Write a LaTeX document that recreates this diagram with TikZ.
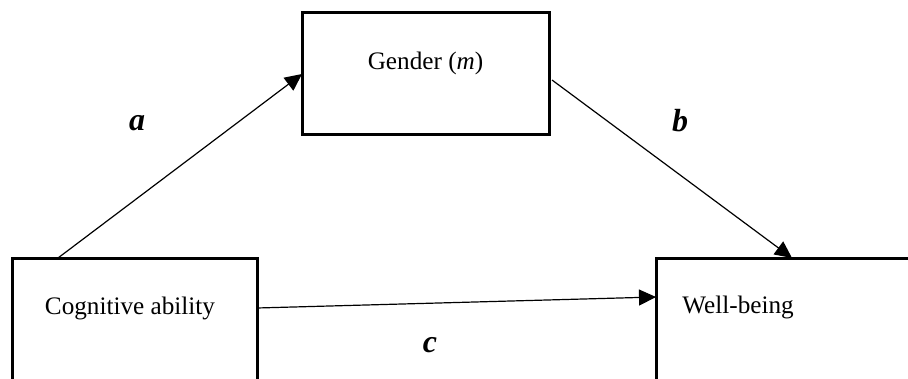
\documentclass[tikz,border=0pt]{standalone}
\usepackage{fontspec}
\setmainfont{Liberation Serif}
\usetikzlibrary{arrows.meta}
\begin{document}
\begin{tikzpicture}[x=0.5pt,y=-0.5pt,
  box/.style={draw,line width=1.5pt,minimum width=#1,minimum height=61pt,inner sep=0pt,outer sep=0pt,anchor=north west},
  lbl/.style={inner sep=0pt,font=\fontsize{12.6}{15}\selectfont},
  coef/.style={inner sep=0pt,font=\fontsize{16}{19}\selectfont\bfseries\itshape},
  conn/.style={line width=0.6pt,-{Triangle[length=8.5pt,width=8pt]}}]
\useasboundingbox (0,0) rectangle (908,379);
\begin{scope}
\clip (0,0) rectangle (908,379);
\node[box=123.5pt] (gender) at (302,13) {};
\node[lbl] (gtext) at (425.5,63) {Gender (\textit{m})};
\node[box=122.5pt] (cog) at (12,258) {};
\node[lbl] (ctext) at (130,308) {Cognitive ability};
\node[box=127pt] (well) at (656,258) {};
\node[lbl,anchor=west] (wtext) at (682,307) {Well-being};
\draw[conn] ([xshift=23pt]cog.north west) -- (gender.west);
\draw[conn] ([shift={(1.5pt,-3pt)}]gender.east) -- ([xshift=68pt]well.north west);
\draw[conn] ([yshift=5.5pt]cog.east) -- ([yshift=11pt]well.west);
\node[coef] (la) at (137,123) {a};
\node[coef] (lb) at (680,121) {b};
\node[coef] (lc) at (430,345) {c};
\end{scope}
\end{tikzpicture}
\end{document}
